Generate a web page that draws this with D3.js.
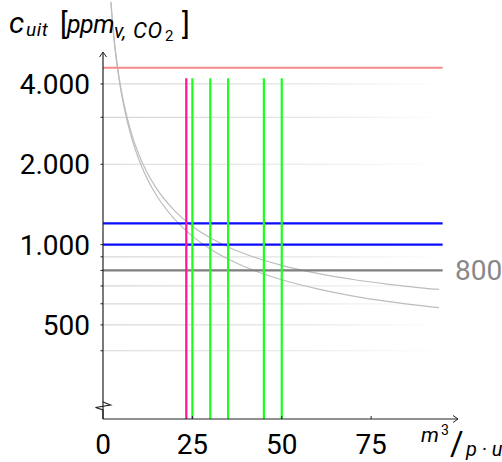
<!doctype html>
<html>
<head>
<meta charset="utf-8">
<style>
  body { margin: 0; background: #fff; }
  text { font-family: Roboto, "DejaVu Sans", sans-serif; }
</style>
<script src="https://d3js.org/d3.v7.min.js"></script>
</head>
<body>
<svg id="svg1" width="502" height="462"></svg>
<script>
// data
var yTicks = [500, 1000, 2000, 4000];
var yTickLabels = ["500", "1.000", "2.000", "4.000"];
var gridValues = [400, 500, 600, 700, 800, 900, 1000, 2000, 3000, 4000];
var xTicks = [0, 25, 50, 75];

var flowQ   = [2.2, 3, 4, 5, 6, 8, 10, 12, 15, 20, 25, 30, 35, 40, 50, 60, 70, 80, 94];
var curveA  = [8136, 6100, 4700, 3860, 3300, 2600, 2180, 1900, 1620, 1340, 1172, 1060, 980, 920, 836, 780, 740, 710, 679];
var curveB  = [8080, 6030, 4625, 3780, 3217, 2512, 2090, 1808, 1527, 1245, 1076, 963, 883, 822, 738, 682, 641, 611, 580];

var redLevel = 4600;
var blueLevels = [1000, 1200];
var grayLevel = 800;
var lineEndQ = 95;

var magentaQ = [23.3];
var greenQ = [25, 30, 35, 45, 50];
var verticalTop = 4200;

var svg = d3.select("svg");

var x = d3.scaleLinear().domain([0, 99.3]).range([103, 458]);
var y = d3.scaleLog().domain([222, 5270]).range([419, 52]);

// fading grid
var grad = svg.append("defs").append("linearGradient")
    .attr("id", "fade")
    .attr("gradientUnits", "userSpaceOnUse")
    .attr("x1", x(0)).attr("x2", x(lineEndQ)).attr("y1", 0).attr("y2", 0);
grad.append("stop").attr("offset", "0%").attr("stop-color", "#d6d6d6");
grad.append("stop").attr("offset", "60%").attr("stop-color", "#e6e6e6");
grad.append("stop").attr("offset", "100%").attr("stop-color", "#ffffff");

svg.append("g").selectAll("line")
    .data(gridValues)
    .enter().append("line")
    .attr("x1", x(0)).attr("x2", x(lineEndQ))
    .attr("y1", function(d) { return y(d); })
    .attr("y2", function(d) { return y(d); })
    .attr("stroke", "url(#fade)")
    .attr("stroke-width", 1.2);

// curves
var line = d3.line()
    .x(function(d) { return x(d[0]); })
    .y(function(d) { return y(d[1]); })
    .curve(d3.curveMonotoneX);

[curveA, curveB].forEach(function(c) {
    svg.append("path")
        .datum(flowQ.map(function(q, i) { return [q, c[i]]; }))
        .attr("d", line)
        .attr("fill", "none")
        .attr("stroke", "#bdbdbd")
        .attr("stroke-width", 1.2);
});

// horizontal reference lines
function hline(v, color, w) {
    svg.append("line")
        .attr("x1", x(0)).attr("x2", x(lineEndQ))
        .attr("y1", y(v)).attr("y2", y(v))
        .attr("stroke", color)
        .attr("stroke-width", w);
}
hline(redLevel, "#f58a8a", 2.2);
blueLevels.forEach(function(v) { hline(v, "#0a0aff", 2.2); });
hline(grayLevel, "#7f7f7f", 2.2);

// vertical lines
function vline(q, color) {
    svg.append("line")
        .attr("x1", x(q)).attr("x2", x(q))
        .attr("y1", y(verticalTop)).attr("y2", y(222))
        .attr("stroke", color)
        .attr("stroke-width", 2.2);
}
magentaQ.forEach(function(q) { vline(q, "#ff1493"); });
greenQ.forEach(function(q) { vline(q, "#1bff1b"); });

// axes
var axisColor = "#222";
svg.append("line")
    .attr("x1", x(0)).attr("x2", x(0))
    .attr("y1", 419).attr("y2", 401.5)
    .attr("stroke", axisColor).attr("stroke-width", 1.2);
svg.append("path")
    .attr("d", "M103,402 L110.5,405 L95.5,407.5 L103,410 L103,419")
    .attr("fill", "none").attr("stroke", axisColor).attr("stroke-width", 1.2);
svg.append("line")
    .attr("x1", x(0)).attr("x2", x(0))
    .attr("y1", 402).attr("y2", 52.5)
    .attr("stroke", axisColor).attr("stroke-width", 1.2);
svg.append("path")
    .attr("d", "M99.5,57 L103,52 L106.5,57")
    .attr("fill", "none").attr("stroke", axisColor).attr("stroke-width", 1);

svg.append("line")
    .attr("x1", x(0)).attr("x2", 458)
    .attr("y1", 419).attr("y2", 419)
    .attr("stroke", axisColor).attr("stroke-width", 1.2);
svg.append("path")
    .attr("d", "M453,415.5 L458,419 L453,422.5")
    .attr("fill", "none").attr("stroke", axisColor).attr("stroke-width", 1);

// y ticks + labels
svg.append("g").selectAll("line")
    .data(gridValues)
    .enter().append("line")
    .attr("x1", 100.5).attr("x2", 103)
    .attr("y1", function(d) { return y(d); })
    .attr("y2", function(d) { return y(d); })
    .attr("stroke", axisColor).attr("stroke-width", 1);

svg.append("g").selectAll("text")
    .data(yTicks)
    .enter().append("text")
    .attr("x", 90)
    .attr("y", function(d) { return y(d) + 10; })
    .attr("text-anchor", "end")
    .attr("font-size", "28px")
    .attr("fill", "#000")
    .text(function(d, i) { return yTickLabels[i]; });

// x ticks + labels
svg.append("g").selectAll("line")
    .data(xTicks.slice(1))
    .enter().append("line")
    .attr("x1", function(d) { return x(d); })
    .attr("x2", function(d) { return x(d); })
    .attr("y1", 416).attr("y2", 419)
    .attr("stroke", axisColor).attr("stroke-width", 1);

svg.append("g").selectAll("text")
    .data(xTicks)
    .enter().append("text")
    .attr("x", function(d) { return x(d); })
    .attr("y", 453.5)
    .attr("text-anchor", "middle")
    .attr("font-size", "28px")
    .attr("fill", "#000")
    .text(function(d) { return d; });

// 800 label
svg.append("text")
    .attr("x", 455)
    .attr("y", y(grayLevel) + 10)
    .attr("font-size", "28px")
    .attr("fill", "#888")
    .text("800");

// y title
var t = svg.append("text").attr("font-style", "italic").attr("fill", "#000");
t.append("tspan").attr("x", 9).attr("y", 33).attr("font-size", "30px").text("c");
t.append("tspan").attr("x", 26).attr("y", 36).attr("font-size", "19px")
    .attr("letter-spacing", "0.5px").text("uit");
t.append("tspan").attr("x", 60).attr("y", 34).attr("font-size", "29px").attr("font-style", "normal").text("[");
t.append("tspan").attr("x", 67).attr("y", 33).attr("font-size", "25px")
    .attr("letter-spacing", "-0.5px").text("ppm");
t.append("tspan").attr("x", 114).attr("y", 38).attr("font-size", "20px").text("v,");
t.append("tspan").attr("x", 133).attr("y", 38).attr("font-size", "22px")
    .attr("letter-spacing", "0.5px").text("CO");
t.append("tspan").attr("x", 165).attr("y", 41).attr("font-size", "15px").attr("font-style", "normal").text("2");
t.append("tspan").attr("x", 182).attr("y", 34).attr("font-size", "29px").attr("font-style", "normal").text("]");

// x title
var u = svg.append("text").attr("font-style", "italic").attr("fill", "#000");
u.append("tspan").attr("x", 421).attr("y", 442).attr("font-size", "21px").text("m");
u.append("tspan").attr("x", 441).attr("y", 435).attr("font-size", "14px").attr("font-style", "normal").text("3");
svg.append("text")
    .attr("x", 450).attr("y", 455)
    .attr("font-size", "33px")
    .attr("fill", "#000")
    .text("/");
svg.append("text")
    .attr("x", 466).attr("y", 456)
    .attr("font-size", "20px")
    .attr("font-style", "italic")
    .attr("fill", "#000")
    .text("p · u");
</script>
</body>
</html>
